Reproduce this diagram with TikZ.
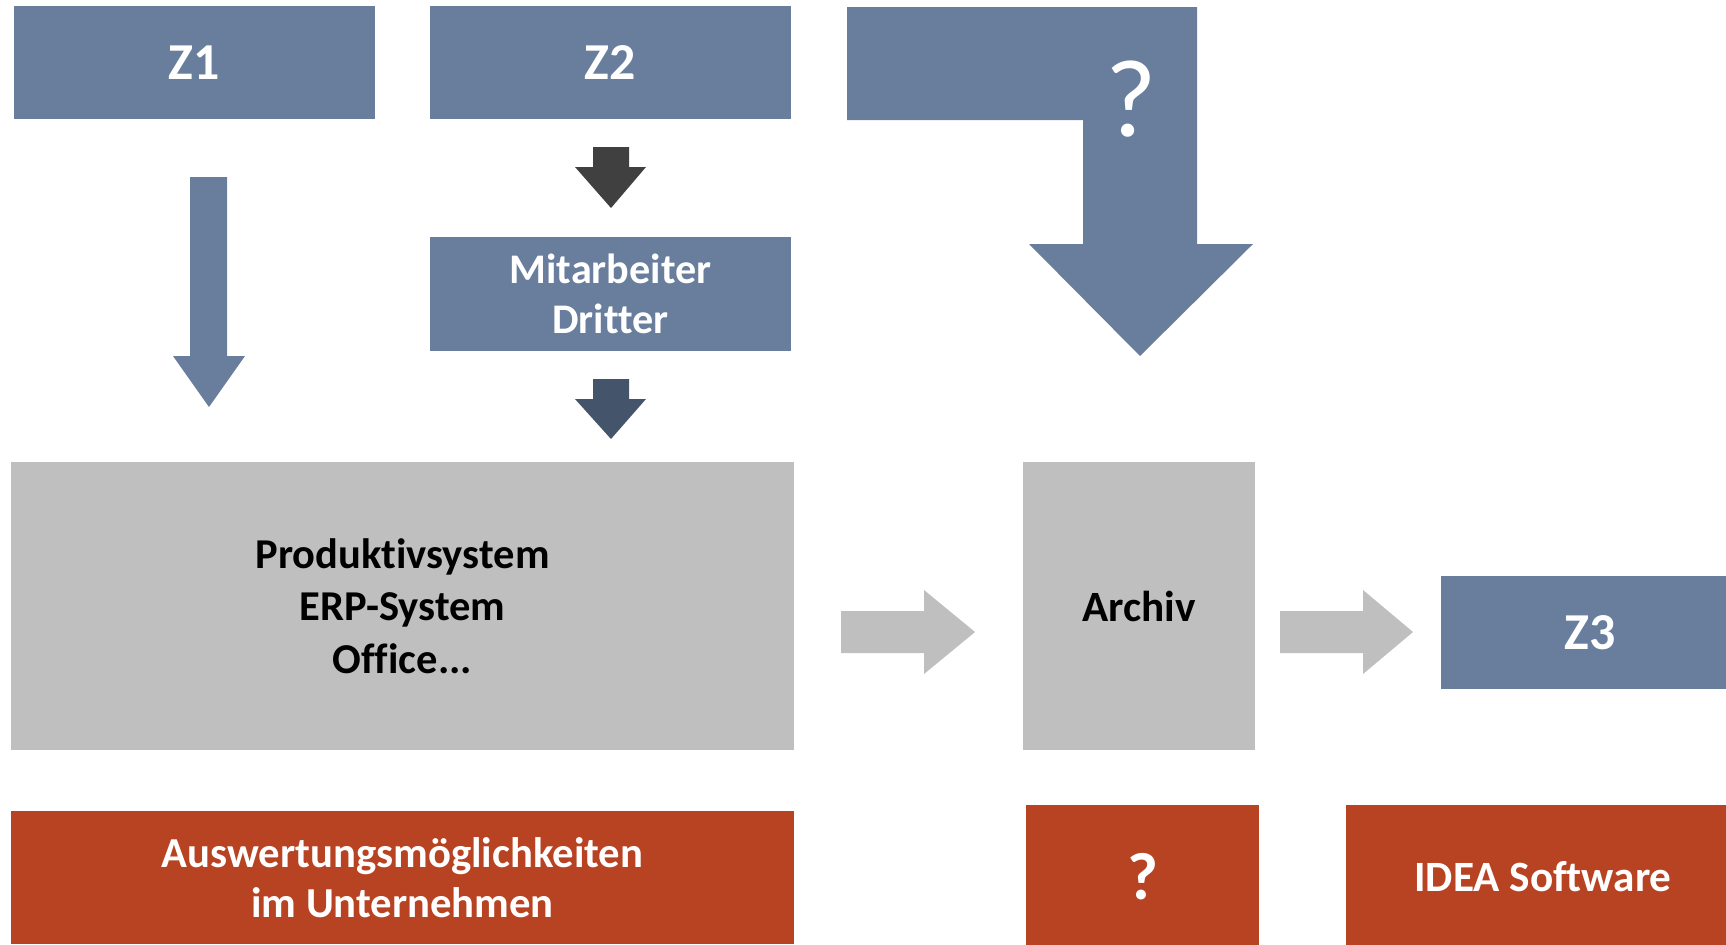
\documentclass[tikz,border=0pt]{standalone}
\usepackage{fontspec}
\setmainfont[Ligatures={NoCommon}]{Carlito}
\definecolor{zblue}{HTML}{687E9C}
\definecolor{archgray}{HTML}{BFBFBF}
\definecolor{evalred}{HTML}{B84322}
\definecolor{darkarrow}{HTML}{404040}
\definecolor{slatearrow}{HTML}{44546A}
\tikzset{
	zbox/.style={fill=zblue,text=white,inner sep=0pt,align=center,
		font=\bfseries\fontsize{29.5}{35}\selectfont},
	graybox/.style={fill=archgray,text=black,inner sep=0pt,align=center,
		font=\bfseries\fontsize{24.2}{30}\selectfont},
	redbox/.style={fill=evalred,text=white,inner sep=0pt,align=center,
		font=\bfseries\fontsize{24.3}{28.5}\selectfont},
}
\begin{document}
\begin{tikzpicture}[x=0.02cm,y=-0.02cm]
	\useasboundingbox (0,0) rectangle (1726,944);
	\clip (0,0) rectangle (1726,944);
	% top row
	\node[zbox,minimum width=7.22cm,minimum height=2.26cm] (z1) at (194.5,62.5) {Z1};
	\node[zbox,minimum width=7.22cm,minimum height=2.26cm] (z2) at (610.5,62.5) {Z2};
	\node[zbox,minimum width=7.22cm,minimum height=2.28cm,
		font=\bfseries\fontsize{24}{28.5}\selectfont] (dritter) at (610.5,294)
		{Mitarbeiter\\Dritter};
	% bent arrow with question mark
	\fill[zblue] (847,7) -- (1197,7) -- (1197,244) -- (1253,244) -- (1140,356)
		-- (1029,244) -- (1083,244) -- (1083,120) -- (847,120) -- cycle;
	\node[text=white,font=\fontsize{63}{70}\selectfont] (frage) at (1131,99) {?};
	% down arrows
	\fill[zblue] (190,177) -- (227,177) -- (227,356) -- (245,356) -- (209,407)
		-- (173,356) -- (190,356) -- cycle;
	\fill[darkarrow] (593,147) -- (629,147) -- (629,167) -- (646,167) -- (611,208)
		-- (575,167) -- (593,167) -- cycle;
	\fill[slatearrow] (593,379) -- (629,379) -- (629,399) -- (646,399) -- (611,439)
		-- (575,399) -- (593,399) -- cycle;
	% middle row
	\node[graybox,minimum width=15.66cm,minimum height=5.76cm] (prod) at (402.5,606)
		{Produktivsystem\\ERP-System\\Office...};
	\node[graybox,minimum width=4.64cm,minimum height=5.76cm,
		font=\bfseries\fontsize{24.6}{30}\selectfont] (archiv) at (1139,606) {Archiv};
	\node[zbox,minimum width=5.96cm,minimum height=2.26cm] (z3) at (1590,632.5) {Z3};
	\fill[archgray] (841,611) -- (924,611) -- (924,590) -- (975,632) -- (924,674)
		-- (924,653) -- (841,653) -- cycle;
	\fill[archgray] (1280,611) -- (1363,611) -- (1363,590) -- (1413,632) -- (1363,674)
		-- (1363,653) -- (1280,653) -- cycle;
	% bottom row
	\node[redbox,minimum width=15.66cm,minimum height=2.66cm] (auswertung) at (402.5,877.5)
		{Auswertungsmöglichkeiten\\im Unternehmen};
	\node[redbox,minimum width=4.66cm,minimum height=2.88cm,
		font=\bfseries\fontsize{38}{40}\selectfont] (offen) at (1142.5,877) {?};
	\node[redbox,minimum width=7.88cm,minimum height=2.88cm,
		font=\bfseries\fontsize{24.6}{28.5}\selectfont] (idea) at (1543,877)
		{IDEA Software};
\end{tikzpicture}
\end{document}
